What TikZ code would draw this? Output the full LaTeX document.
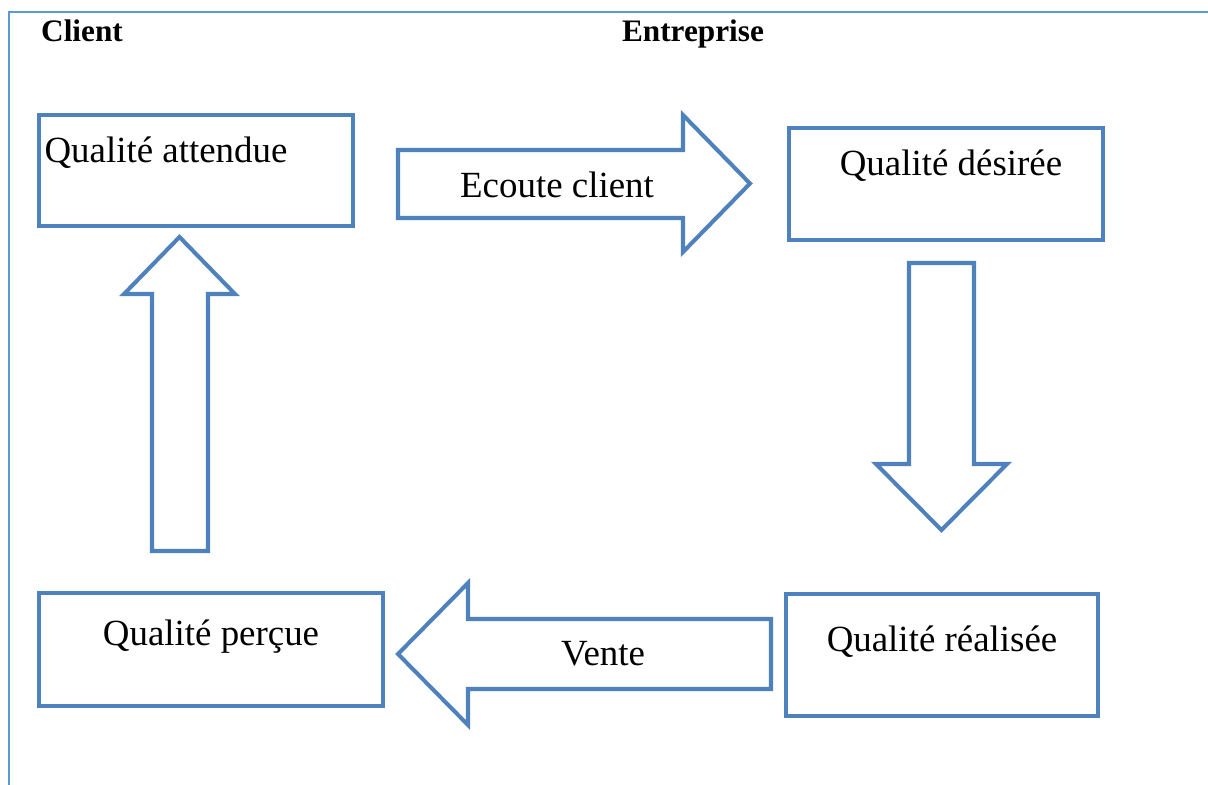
\documentclass[tikz,border=0pt]{standalone}
\usepackage{fontspec}
\setmainfont{Liberation Serif}
\usetikzlibrary{positioning}
\definecolor{boxblue}{HTML}{4F81BD}
\definecolor{frameblue}{HTML}{5B9BD5}
\tikzset{
  qbox/.style={draw=boxblue, line width=2.3pt, inner sep=0pt},
  qarrow/.style={draw=boxblue, line width=2.3pt, line join=miter},
  qtext/.style={font=\fontsize{21}{25}\selectfont, inner sep=0pt},
  head/.style={font=\fontsize{17.8}{20}\selectfont\bfseries, inner sep=0pt, anchor=base}
}
\begin{document}
\begin{tikzpicture}[x=0.02cm,y=-0.02cm]
  \useasboundingbox (0,0) rectangle (1208,785);
  \draw [frameblue, line width=1.1pt] (1208,12) -- (9,12) -- (9,785);
  % headings
  \node [head] (client) at (82,41) {Client};
  \node [head] (entreprise) at (693,41) {Entreprise};
  % boxes
  \node [qbox, minimum width=6.28cm, minimum height=2.22cm] (attendue) at (196,170.5) {};
  \node [qbox, minimum width=6.28cm, minimum height=2.24cm] (desiree) at (946,184) {};
  \node [qbox, minimum width=6.24cm, minimum height=2.44cm] (realisee) at (942,655) {};
  \node [qbox, minimum width=6.88cm, minimum height=2.26cm] (percue) at (211,649.5) {};
  \node [qtext] (t-attendue) at (166,153) {Qualité attendue};
  \node [qtext] (t-desiree) at (951,166) {Qualité désirée};
  \node [qtext] (t-realisee) at (942,642) {Qualité réalisée};
  \node [qtext] (t-percue) at (211,637) {Qualité perçue};
  % block arrows
  \draw [qarrow] (398,150) -- (683,150) -- (683,115) -- (750,183.5) -- (683,252)
    -- (683,218) -- (398,218) -- cycle;
  \node [qtext] (ecoute) at (557,185) {Ecoute client};
  \draw [qarrow] (909,263) -- (974,263) -- (974,464) -- (1007,464) -- (941.5,530)
    -- (876,464) -- (909,464) -- cycle;
  \draw [qarrow] (771,619) -- (468,619) -- (468,583) -- (398,654) -- (468,725)
    -- (468,689) -- (771,689) -- cycle;
  \node [qtext] (vente) at (603,654) {Vente};
  \draw [qarrow] (152,551) -- (152,294) -- (124,294) -- (179.5,237) -- (235,294)
    -- (208,294) -- (208,551) -- cycle;
\end{tikzpicture}
\end{document}
